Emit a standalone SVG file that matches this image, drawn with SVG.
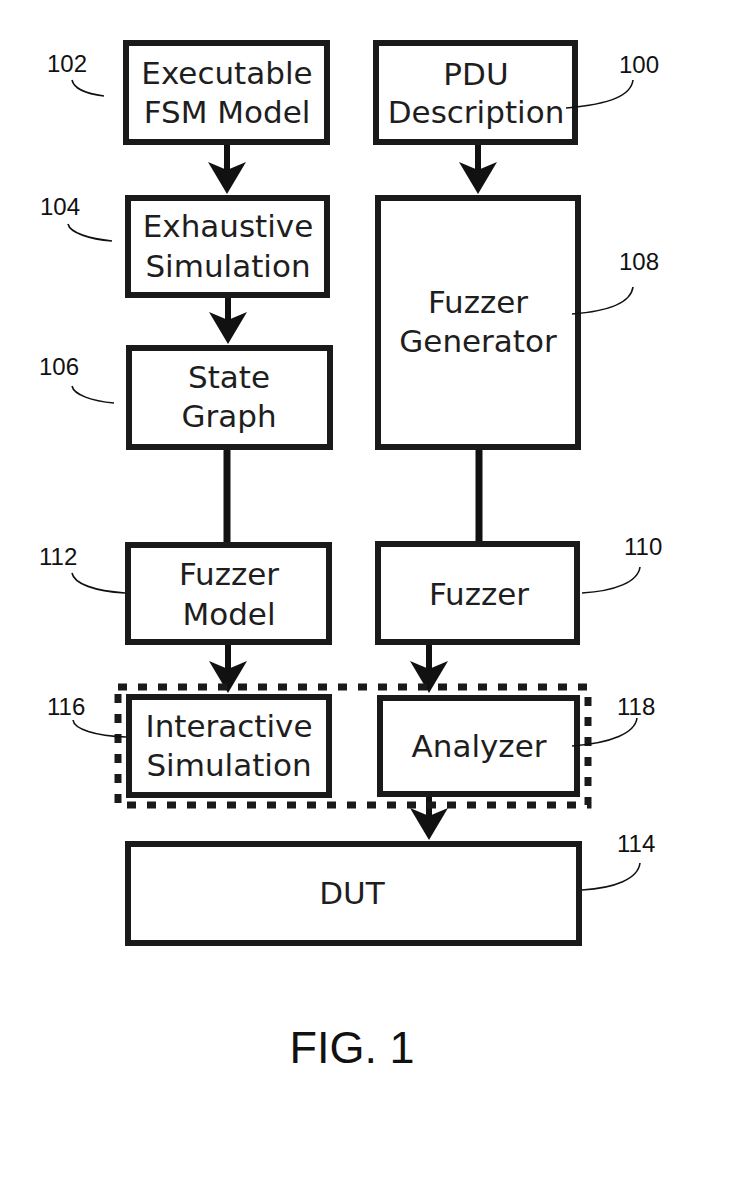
<svg xmlns="http://www.w3.org/2000/svg" width="733" height="1187" viewBox="0 0 733 1187">
<style>
.box{fill:#fff;stroke:#1a1a1a;stroke-width:6}
.t{font-family:"DejaVu Sans",sans-serif;font-size:31px;fill:#1e1e1e;text-anchor:middle}
.lbl{font-family:"Liberation Sans",Arial,sans-serif;font-size:24px;fill:#111}
.lead{fill:none;stroke:#111;stroke-width:1.6}
.shaft{stroke:#111;stroke-width:6;fill:none}
.line{stroke:#111;stroke-width:7;fill:none;stroke-linecap:round}
.dash{fill:none;stroke:#1a1a1a;stroke-width:7;stroke-dasharray:9 11}
.fig{font-family:"Liberation Sans",Arial,sans-serif;font-size:45px;fill:#111;text-anchor:middle}
</style>
<defs>
<path id="ah" d="M0,0 L-19,-32 L0,-24 L19,-32 Z" fill="#111"/>
</defs>
<rect width="733" height="1187" fill="#fff"/>

<g id="connectors">
<line class="shaft" x1="227" y1="145" x2="227" y2="172"/>
<use href="#ah" x="227" y="194"/>
<line class="shaft" x1="478" y1="145" x2="478" y2="172"/>
<use href="#ah" x="478" y="194"/>
<line class="shaft" x1="228" y1="298" x2="228" y2="322"/>
<use href="#ah" x="228" y="344"/>
<line class="line" x1="227" y1="451" x2="227" y2="542"/>
<line class="line" x1="479" y1="451" x2="479" y2="541"/>
<line class="shaft" x1="228" y1="645" x2="228" y2="671"/>
<use href="#ah" x="228" y="693"/>
<line class="shaft" x1="429" y1="645" x2="429" y2="671"/>
<use href="#ah" x="429" y="693"/>
<line class="shaft" x1="429" y1="797" x2="429" y2="818"/>
<use href="#ah" x="429" y="840"/>
</g>

<g id="group-116-118">
<rect class="dash" x="118" y="687" width="470" height="118"/>
</g>

<g id="n102">
<rect class="box" x="126" y="43" width="201" height="99"/>
<text class="t" x="227" y="84">Executable</text>
<text class="t" x="227" y="123">FSM Model</text>
</g>
<g id="n100">
<rect class="box" x="376" y="43" width="199" height="99"/>
<text class="t" x="476" y="85">PDU</text>
<text class="t" x="476" y="123">Description</text>
</g>
<g id="n104">
<rect class="box" x="128" y="198" width="199" height="97"/>
<text class="t" x="228" y="237">Exhaustive</text>
<text class="t" x="228" y="277">Simulation</text>
</g>
<g id="n108">
<rect class="box" x="378" y="198" width="200" height="249"/>
<text class="t" x="478" y="313">Fuzzer</text>
<text class="t" x="478" y="352">Generator</text>
</g>
<g id="n106">
<rect class="box" x="129" y="348" width="201" height="99"/>
<text class="t" x="229" y="388">State</text>
<text class="t" x="229" y="427">Graph</text>
</g>
<g id="n112">
<rect class="box" x="128" y="545" width="201" height="97"/>
<text class="t" x="229" y="585">Fuzzer</text>
<text class="t" x="229" y="625">Model</text>
</g>
<g id="n110">
<rect class="box" x="378" y="544" width="199" height="98"/>
<text class="t" x="479" y="605">Fuzzer</text>
</g>
<g id="n116">
<rect class="box" x="129" y="697" width="200" height="98"/>
<text class="t" x="229" y="737">Interactive</text>
<text class="t" x="229" y="776">Simulation</text>
</g>
<g id="n118">
<rect class="box" x="380" y="698" width="197" height="96"/>
<text class="t" x="479" y="757">Analyzer</text>
</g>
<g id="n114">
<rect class="box" x="128" y="844" width="451" height="99"/>
<text class="t" x="352" y="904">DUT</text>
</g>

<g id="labels">
<text class="lbl" x="47" y="72">102</text>
<path class="lead" d="M72,80 C74,89 88,94 104,96"/>
<text class="lbl" x="40" y="215">104</text>
<path class="lead" d="M68,224 C70,233 90,239 112,241"/>
<text class="lbl" x="39" y="375">106</text>
<path class="lead" d="M72,386 C74,395 92,401 114,403"/>
<text class="lbl" x="39" y="565">112</text>
<path class="lead" d="M72,573 C74,584 95,591 125,593"/>
<text class="lbl" x="47" y="715">116</text>
<path class="lead" d="M73,720 C74,729 95,736 126,737"/>
<text class="lbl" x="619" y="73">100</text>
<path class="lead" d="M633,80 C631,95 612,104 566,108"/>
<text class="lbl" x="619" y="270">108</text>
<path class="lead" d="M633,287 C631,302 612,311 572,314"/>
<text class="lbl" x="624" y="555">110</text>
<path class="lead" d="M640,567 C638,582 615,591 582,593"/>
<text class="lbl" x="617" y="715">118</text>
<path class="lead" d="M637,718 C635,733 612,743 572,746"/>
<text class="lbl" x="617" y="852">114</text>
<path class="lead" d="M640,863 C638,879 615,888 582,890"/>
</g>

<text class="fig" x="352" y="1063">FIG. 1</text>
</svg>
